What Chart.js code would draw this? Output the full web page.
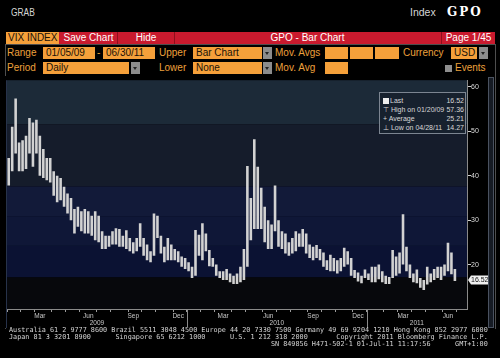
<!DOCTYPE html>
<html>
<head>
<meta charset="utf-8">
<script src="https://cdn.jsdelivr.net/npm/chart.js@4.4.0/dist/chart.umd.min.js"></script>
<style>
  body { margin:0; background:#000; width:500px; height:358px; overflow:hidden; position:relative;
         font-family:"Liberation Sans", Arial, sans-serif; }
  .a { position:absolute; white-space:nowrap; }
  .lbl { color:#eda03c; font-size:10px; line-height:12px; }
  .box { background:#f5a03a; color:#1a1208; font-size:10px; line-height:12px; padding-left:3px; box-sizing:border-box; height:12px; }
  .arr { background:#8c8c8c; width:9px; height:12px; }
  .arr:after { content:""; position:absolute; left:2px; top:5px; border-left:2.5px solid transparent; border-right:2.5px solid transparent; border-top:3px solid #222; }
  .red { background:#c91a2e; color:#fff; font-size:10px; line-height:12px; text-align:center; height:12px; }
  .leg { color:#d8d8d8; font-size:7px; line-height:9px; }
</style>
</head>
<body>
<!-- header -->
<div class="a" style="left:11px;top:6px;color:#d6d6d6;font-size:10.5px;transform:scaleX(.8);transform-origin:left">GRAB</div>
<div class="a" style="left:410px;top:6px;color:#d6d6d6;font-size:10.5px">Index</div>
<div class="a" style="left:447px;top:5px;color:#fff;font-size:12px;font-weight:bold;letter-spacing:2px;font-family:'DejaVu Serif',serif">GPO</div>

<!-- toolbar -->
<div class="a box" style="left:6px;top:32px;width:53px;padding-left:2px">VIX INDEX</div>
<div class="a red" style="left:59px;top:32px;width:436px"></div>
<div class="a red" style="left:60px;top:32px;width:57px;border-right:1px solid #8e0f1c">Save Chart</div>
<div class="a red" style="left:118px;top:32px;width:56px;border-right:1px solid #8e0f1c">Hide</div>
<div class="a red" style="left:175px;top:32px;width:265px">GPO - Bar Chart</div>
<div class="a red" style="left:441px;top:32px;width:53px;border-left:1px solid #8e0f1c">Page 1/45</div>

<!-- panel outline -->
<div class="a" style="left:5px;top:44px;width:489px;height:284px;border:1px solid #4e4e4e;border-bottom:none"></div>

<!-- row 2 -->
<div class="a lbl" style="left:7px;top:47px">Range</div>
<div class="a box" style="left:43px;top:47px;width:52px">01/05/09</div>
<div class="a lbl" style="left:97px;top:47px">-</div>
<div class="a box" style="left:103px;top:47px;width:52px">06/30/11</div>
<div class="a lbl" style="left:159px;top:47px">Upper</div>
<div class="a box" style="left:193px;top:47px;width:69px">Bar Chart</div>
<div class="a arr" style="left:263px;top:47px"></div>
<div class="a lbl" style="left:275px;top:47px">Mov. Avgs</div>
<div class="a box" style="left:325px;top:47px;width:23px"></div>
<div class="a box" style="left:350px;top:47px;width:23px"></div>
<div class="a box" style="left:375px;top:47px;width:24px"></div>
<div class="a lbl" style="left:403px;top:47px">Currency</div>
<div class="a box" style="left:451px;top:47px;width:26px">USD</div>
<div class="a arr" style="left:479px;top:47px"></div>

<!-- row 3 -->
<div class="a lbl" style="left:7px;top:62px">Period</div>
<div class="a box" style="left:43px;top:62px;width:86px">Daily</div>
<div class="a arr" style="left:131px;top:62px"></div>
<div class="a lbl" style="left:159px;top:62px">Lower</div>
<div class="a box" style="left:193px;top:62px;width:69px">None</div>
<div class="a arr" style="left:263px;top:62px"></div>
<div class="a lbl" style="left:275px;top:62px">Mov. Avg</div>
<div class="a box" style="left:325px;top:62px;width:23px"></div>
<div class="a" style="left:445px;top:65px;width:7px;height:7px;background:#8e8e8e"></div>
<div class="a lbl" style="left:455px;top:62px">Events</div>

<!-- chart -->
<canvas id="chart" class="a" width="484" height="252" style="left:5px;top:76px"></canvas>

<!-- scroll bar at right -->
<div class="a" style="left:488px;top:77px;width:4px;height:249px;border:1px solid #4a5260;background:#161b24"></div>

<!-- stats box -->
<div class="a" style="left:379px;top:92px;width:85px;height:40px;border:1px solid #7c8591;background:#17212e"></div>
<div class="a" style="left:383px;top:98px;width:6px;height:6px;background:#eee"></div>
<div class="a leg" style="left:390px;top:96px">Last</div>
<div class="a leg" style="left:383px;top:105px">⊤ High on 01/20/09</div>
<div class="a leg" style="left:383px;top:114px">+ Average</div>
<div class="a leg" style="left:383px;top:123px">⊥ Low on 04/28/11</div>
<div class="a leg" id="statVals" style="left:440px;top:96px;width:24px;text-align:right"></div>

<!-- footer -->
<div class="a" style="left:9px;top:327px;color:#d4d4d4;font-family:'DejaVu Sans Mono',monospace;font-size:6.8px;line-height:7px;white-space:pre">Australia 61 2 9777 8600 Brazil 5511 3048 4500 Europe 44 20 7330 7500 Germany 49 69 9204 1210 Hong Kong 852 2977 6000
Japan 81 3 3201 8900      Singapore 65 6212 1000      U.S. 1 212 318 2000       Copyright 2011 Bloomberg Finance L.P.
                                                                SN 849856 H471-502-1 01-Jul-11 11:17:56      GMT+1:00</div>

<script>
// weekly high / low of the VIX index (week starting 2009-01-05)
const firstWeek = '2009-01-05'
const weekCount = 133   // 130 weeks of data, axis runs a few weeks past the last one

const lows = [
  37.8, 41, 45, 41, 41, 41.5, 45, 42, 45, 40,
  39.5, 39, 38.5, 35.5, 34, 34.5, 33, 31.5, 30, 27,
  28.5, 27.5, 27, 27, 26.5, 25.5, 25, 23.5, 23.5, 24,
  24.5, 24.5, 24, 24, 23.5, 23, 22.5, 23, 24, 22,
  21, 20.5, 22, 26, 22.5, 20.5, 21, 21, 21, 20.5,
  19.5, 19, 18.5, 17, 17.5, 22, 21, 23, 19.6, 19.5,
  17.5, 17, 16.5, 16.5, 16, 15.6, 15.6, 16, 16.5, 19.5,
  25.5, 28, 28, 28, 25, 23.5, 23.5, 27.5, 24, 23.5,
  22.5, 22, 22.5, 23, 24, 24, 22.5, 21.5, 21, 21.5,
  21, 19.5, 18.8, 18.5, 18.5, 18, 18.5, 19.5, 20, 17.5,
  17, 16.2, 15.8, 17, 16.5, 16, 16, 16.7, 16, 15.6,
  15.6, 17, 17.5, 18, 20, 18.5, 17, 16, 15.8, 14.8,
  14.27, 15.5, 16, 16.5, 17, 16.5, 17.5, 18.5, 17.8, 16.3
]
const highs = [
  44, 51, 57.36, 47.5, 48, 49, 53, 52, 52.6, 49,
  46, 44, 44, 41, 40, 39.5, 37.5, 36, 35, 32.5,
  33, 32, 32.5, 32, 31, 32, 31, 27.5, 26.5, 26.5,
  27.5, 28.2, 28, 26.5, 27.7, 26, 25, 26, 29.3, 26,
  24.5, 23, 31.5, 31, 26.5, 24, 26, 24.5, 23.5, 23,
  21.8, 21.5, 20.5, 19.5, 27.8, 26.7, 29.3, 27, 23.3, 21.5,
  20, 18.5, 18.5, 19, 18, 17.5, 18, 19.5, 23.5, 42.2,
  35, 48.2, 42, 37.3, 33, 30, 29, 37.8, 30, 27.5,
  27, 25, 26, 27.5, 27, 28, 27, 24.5, 24, 24.4,
  23.5, 22.7, 21, 22.2, 21.5, 21, 21.5, 23.8, 23, 21.5,
  18.8, 18.2, 17.5, 18.9, 18, 19.5, 19.5, 20, 18.5, 17.5,
  17.2, 23.3, 21.8, 22.7, 31.3, 24, 20, 18, 18.9, 17,
  16.5, 19.5, 18, 19, 19.5, 19.5, 20, 24.9, 22.7, 19
]

const lastValue = 16.52
const statValues = ['16.52', '57.36', '25.21', '14.27']

const yTicks = [20, 30, 40, 50, 60]
const monthNames = ['Jan','Feb','Mar','Apr','May','Jun','Jul','Aug','Sep','Oct','Nov','Dec']
const tickMonths = ['Mar', 'Jun', 'Sep', 'Dec']
const yearLabels = ['2009', '2010', '2011']

document.getElementById('statVals').innerHTML = statValues.join('<br>')

// week labels
let labels = []
let d = new Date(firstWeek + 'T00:00:00Z')
for (let i = 0; i < weekCount; i++) {
    labels.push(d.toISOString().slice(0, 10))
    d.setUTCDate(d.getUTCDate() + 7)
}

let ranges = lows.map((lo, i) => [lo, highs[i]])

// background shading of the plot, by value
let bands = [
    [51.6, 70, '#1c2a38'],
    [37.6, 51.6, '#151c2b'],
    [30.9, 37.6, '#121a39'],
    [24.2, 30.9, '#0f1737'],
    [17.1, 24.2, '#0b1233'],
    [0, 17.1, '#07080c']
]

const bgPlugin = {
    id: 'bg',
    beforeDraw(chart) {
        const {ctx, chartArea: a, scales: {y}} = chart
        ctx.save()
        ctx.fillStyle = '#000'
        ctx.fillRect(0, 0, chart.width, chart.height)
        bands.forEach(b => {
            let top = Math.max(a.top, y.getPixelForValue(b[1]))
            let bot = Math.min(a.bottom, y.getPixelForValue(b[0]))
            if (bot > top) {
                ctx.fillStyle = b[2]
                ctx.fillRect(a.left, top, a.right - a.left, bot - top)
            }
        })
        ctx.restore()
    },
    afterDraw(chart) {
        const {ctx, chartArea: a, scales: {x, y}} = chart
        ctx.save()
        // left edge
        ctx.strokeStyle = '#27324a'
        ctx.beginPath()
        ctx.moveTo(a.left - 0.5, a.top)
        ctx.lineTo(a.left - 0.5, chart.height)
        ctx.stroke()
        // years under the axis
        ctx.font = '6.5px "Liberation Sans", Arial, sans-serif'
        ctx.fillStyle = '#c8c8c8'
        ctx.textAlign = 'center'
        ctx.textBaseline = 'middle'
        let half = (x.getPixelForValue(1) - x.getPixelForValue(0)) / 2
        yearLabels.forEach((yr, n) => {
            let idx = labels.map((l, i) => l.startsWith(yr) ? i : -1).filter(i => i >= 0)
            let left = x.getPixelForValue(idx[0]) - half
            let right = Math.min(a.right, x.getPixelForValue(idx[idx.length - 1]) + half)
            ctx.fillText(yr, (left + right) / 2, a.bottom + 14)
            if (n > 0) {
                ctx.strokeStyle = '#8a8a8a'
                ctx.beginPath()
                ctx.moveTo(Math.round(left) + 0.5, a.bottom)
                ctx.lineTo(Math.round(left) + 0.5, a.bottom + 18)
                ctx.stroke()
            }
        })
        // last price tag
        let ly = y.getPixelForValue(lastValue)
        ctx.fillStyle = '#f0f0f0'
        ctx.beginPath()
        ctx.moveTo(a.right + 1, ly)
        ctx.lineTo(a.right + 4, ly - 4.5)
        ctx.lineTo(a.right + 22, ly - 4.5)
        ctx.lineTo(a.right + 22, ly + 4.5)
        ctx.lineTo(a.right + 4, ly + 4.5)
        ctx.closePath()
        ctx.fill()
        ctx.fillStyle = '#111'
        ctx.textAlign = 'left'
        ctx.font = '7px "Liberation Sans", Arial, sans-serif'
        ctx.fillText(lastValue.toFixed(2), a.right + 4, ly + 0.5)
        ctx.restore()
    }
}

new Chart(document.getElementById('chart'), {
    type: 'bar',
    data: {
        labels: labels,
        datasets: [{
            data: ranges,
            backgroundColor: '#d2d2d2',
            borderWidth: 0,
            barPercentage: 0.75,
            categoryPercentage: 1
        }]
    },
    options: {
        responsive: false,
        animation: false,
        devicePixelRatio: 1,
        layout: { padding: { left: 2, top: 2, right: 0, bottom: 0 } },
        plugins: { legend: { display: false }, tooltip: { enabled: false } },
        scales: {
            x: {
                afterFit: s => { s.height = 19 },
                border: { display: true, color: '#8a8a8a' },
                grid: {
                    drawOnChartArea: false,
                    tickLength: 3,
                    offset: true,
                    color: ctx => {
                        let l = labels[ctx.index]
                        return l && +l.slice(8, 10) <= 7 ? '#9a9a9a' : 'rgba(0,0,0,0)'
                    }
                },
                ticks: {
                    autoSkip: false,
                    maxRotation: 0,
                    padding: 0,
                    color: '#c8c8c8',
                    font: { size: 6.5, family: '"Liberation Sans", Arial, sans-serif' },
                    callback: (v, i) => {
                        let l = labels[i]
                        let m = monthNames[+l.slice(5, 7) - 1]
                        let day = +l.slice(8, 10)
                        return tickMonths.includes(m) && day >= 9 && day <= 15 ? m : ''
                    }
                }
            },
            y: {
                position: 'right',
                min: 10,
                max: 61.5,
                afterFit: s => { s.width = 22 },
                afterBuildTicks: s => { s.ticks = yTicks.map(v => ({value: v})) },
                border: { display: true, color: '#8a8a8a' },
                grid: { drawOnChartArea: false, tickLength: 4, color: '#d0d0d0' },
                ticks: {
                    padding: 0,
                    color: '#dcdcdc',
                    font: { size: 7, family: '"Liberation Sans", Arial, sans-serif' }
                }
            }
        }
    },
    plugins: [bgPlugin]
})
</script>
</body>
</html>
